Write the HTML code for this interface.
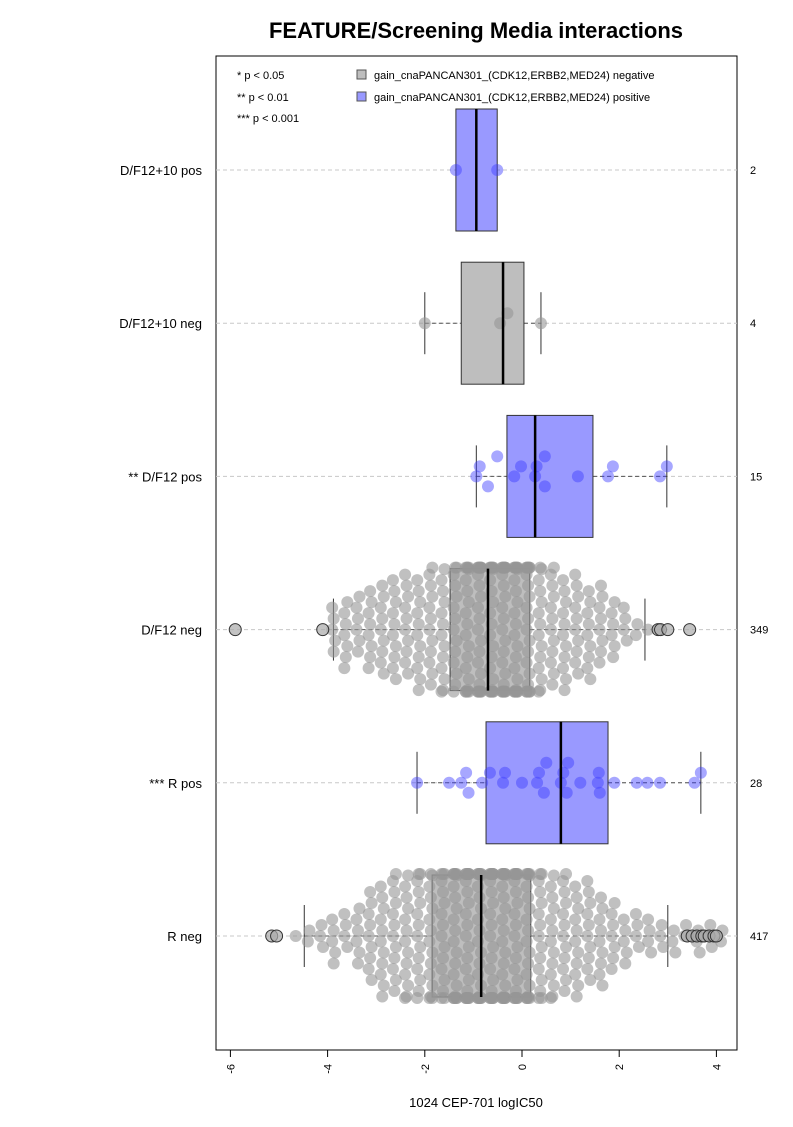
<!DOCTYPE html>
<html><head><meta charset="utf-8"><style>
body{margin:0;background:#fff;}
svg text{font-family:"Liberation Sans",Arial,sans-serif;}
</style></head><body>
<svg id="chart" width="793" height="1122" xmlns="http://www.w3.org/2000/svg">
<text x="476" y="38" text-anchor="middle" font-size="22" font-weight="bold">FEATURE/Screening Media interactions</text>
<rect x="216" y="56" width="521" height="994" fill="none" stroke="#000" stroke-width="1"/>
<g id="grid"></g><g id="marks"></g><g id="axes"></g>
<g font-size="11">
<text x="237" y="79">* p &lt; 0.05</text>
<text x="237" y="101">** p &lt; 0.01</text>
<text x="237" y="122">*** p &lt; 0.001</text>
<rect x="357" y="70" width="9" height="9" fill="#bebebe" stroke="#555"/>
<text x="374" y="79">gain_cnaPANCAN301_(CDK12,ERBB2,MED24) negative</text>
<rect x="357" y="92" width="9" height="9" fill="#9999ff" stroke="#555"/>
<text x="374" y="101">gain_cnaPANCAN301_(CDK12,ERBB2,MED24) positive</text>
</g>
<text x="476" y="1107" text-anchor="middle" font-size="13">1024 CEP-701 logIC50</text>
</svg>
<script>
const categories=["D/F12+10 pos","D/F12+10 neg","** D/F12 pos","D/F12 neg","*** R pos","R neg"];
const counts=["2","4","15","349","28","417"];
const positive=[true,false,true,false,true,false];
const q1=[-1.36,-1.25,-0.31,-1.48,-0.74,-1.85];
const med=[-0.94,-0.39,0.27,-0.70,0.80,-0.84];
const q3=[-0.51,0.04,1.46,0.16,1.77,0.18];
const wlo=[null,-2.0,-0.94,-3.88,-2.16,-4.48];
const whi=[null,0.39,2.98,2.53,3.68,3.0];
const ptsPos0=[-1.36,-0.51];
const ptsNeg1=[-2.0,-0.45,-0.3,0.39];
const ptsPos2=[-0.94,-0.87,-0.70,-0.51,-0.16,-0.02,0.27,0.30,0.47,0.47,1.15,1.77,1.87,2.84,2.98];
const ptsPos4=[-2.16,-1.5,-1.25,-1.15,-1.1,-0.82,-0.66,-0.39,-0.35,0.31,0.35,0.45,0.5,0.8,0.85,0.92,0.95,1.2,1.56,1.58,1.6,1.9,2.36,2.58,2.84,3.55,3.68,0.0];
const binStart3=-3.875;
const binCounts3=[5,7,6,8,9,10,10,11,12,13,14,20,24,24,24,24,22,14,12,11,10,9,8,6,4,2,1];
const outliers3=[-5.9,-4.1,2.8,2.85,3.0,3.45];
const binStart5=-4.625;
const binCounts5=[1,2,3,5,4,6,9,11,12,13,14,15,16,22,24,24,24,24,22,20,15,13,12,11,10,9,7,5,4,4,3,3,2,3,3,2];
const outliers5=[-5.15,-5.05,3.4,3.5,3.6,3.7,3.75,3.85,3.95,4.0];
const xTicks=[-6,-4,-2,0,2,4];
const binW=0.25;

const NS="http://www.w3.org/2000/svg";
const X=v=>522+v*48.6;
const rowY=i=>170+i*153.2;
function mk(tag,attrs,parent){const e=document.createElementNS(NS,tag);for(const k in attrs)e.setAttribute(k,attrs[k]);parent.appendChild(e);return e;}
const grid=document.getElementById('grid'),marks=document.getElementById('marks'),axes=document.getElementById('axes');

categories.forEach((c,i)=>{
  const y=rowY(i);
  const g=mk('line',{x1:216,x2:737,y1:y,y2:y,stroke:'#c8c8c8','stroke-dasharray':'4,3'},grid);
  
  
  const t=mk('text',{x:202,y:y+5,'text-anchor':'end','font-size':13},axes);t.textContent=c;
  
  
  const n=mk('text',{x:750,y:y+4,'font-size':11},axes);n.textContent=counts[i];
  
  
});

function drawBox(i){
  const y=rowY(i),h=61;
  const fill=positive[i]?'#9999ff':'#bebebe';
  if(wlo[i]!==null){
    const w1=mk('line',{x1:X(wlo[i]),x2:X(q1[i]),y1:y,y2:y,stroke:'#555','stroke-dasharray':'4,3'},marks);
    
    
    const w2=mk('line',{x1:X(q3[i]),x2:X(whi[i]),y1:y,y2:y,stroke:'#555','stroke-dasharray':'4,3'},marks);
    
    
    [wlo[i],whi[i]].forEach(v=>{const c=mk('line',{x1:X(v),x2:X(v),y1:y-31,y2:y+31,stroke:'#333'},marks);
      
      });
  }
  const r=mk('rect',{x:X(q1[i]),y:y-h,width:X(q3[i])-X(q1[i]),height:2*h,fill:fill,stroke:'#333'},marks);
  
  
}
function drawMedian(i){
  const y=rowY(i);
  const m=mk('line',{x1:X(med[i]),x2:X(med[i]),y1:y-61,y2:y+61,stroke:'#000','stroke-width':2.5},marks);
  
  
}
function dot(x,y,fill,stroke){
  const c=mk('circle',{cx:x,cy:y,r:6,fill:fill,stroke:stroke||'none'},marks);
  
  
}
function drawPts(i,pts,fill){
  const y=rowY(i);let prev=-99,k=0;
  pts.slice().sort((a,b)=>a-b).forEach(v=>{
    if(v-prev<0.22){k++;}else k=0;prev=v;
    const off=k===0?0:(k%2?-1:1)*Math.ceil(k/2)*10;
    dot(X(v),y+off,fill);
  });
}
function drawSwarm(i,start,bc,outs){
  const y=rowY(i);
  bc.forEach((n,b)=>{
    const cx=X(start+b*binW);
    const shift=(b%2)?5.5:0;
    for(let k=0;k<n;k++){
      let off=(k%2?-1:1)*Math.ceil(k/2)*11+shift;
      off=Math.max(-62,Math.min(62,off));
      dot(cx+((k%3)-1)*1.5,y+off,'rgba(150,150,150,0.6)');
    }
  });
  outs.forEach(v=>dot(X(v),y,'rgba(170,170,170,0.7)','#333'));
}

drawBox(0);drawPts(0,ptsPos0,'rgba(60,60,255,0.45)');drawMedian(0);
drawBox(1);drawPts(1,ptsNeg1,'rgba(150,150,150,0.6)');drawMedian(1);
drawBox(2);drawPts(2,ptsPos2,'rgba(60,60,255,0.45)');drawMedian(2);
drawBox(3);drawSwarm(3,binStart3,binCounts3,outliers3);drawMedian(3);
drawBox(4);drawPts(4,ptsPos4,'rgba(60,60,255,0.45)');drawMedian(4);
drawBox(5);drawSwarm(5,binStart5,binCounts5,outliers5);drawMedian(5);

const ax=mk('line',{x1:X(xTicks[0]),x2:X(xTicks[xTicks.length-1]),y1:1050,y2:1050,stroke:'#000'},axes);


xTicks.forEach(v=>{
  const t=mk('line',{x1:X(v),x2:X(v),y1:1050,y2:1057,stroke:'#000'},axes);
  
  
  const l=mk('text',{x:0,y:0,'font-size':11,'text-anchor':'end',transform:`translate(${X(v)+4},1064) rotate(-90)`},axes);
  l.textContent=v;
  
  
});
</script>
</body></html>
